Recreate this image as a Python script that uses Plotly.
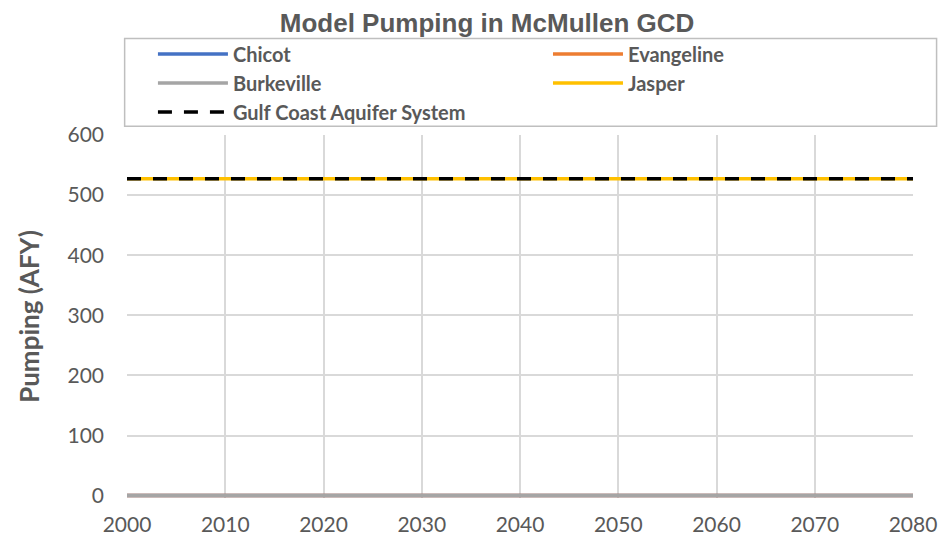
import plotly.graph_objects as go

years = [2000, 2010, 2020, 2030, 2040, 2050, 2060, 2070, 2080]
chicot = [0, 0, 0, 0, 0, 0, 0, 0, 0]
evangeline = [0, 0, 0, 0, 0, 0, 0, 0, 0]
burkeville = [0, 0, 0, 0, 0, 0, 0, 0, 0]
jasper = [527, 527, 527, 527, 527, 527, 527, 527, 527]
gulf_coast = [527, 527, 527, 527, 527, 527, 527, 527, 527]

FONT = "Lato"
GRAY = "#595959"
fig = go.Figure()
series = [
    ("Chicot", chicot, "#4472C4", "solid", "legend"),
    ("Evangeline", evangeline, "#ED7D31", "solid", "legend2"),
    ("Burkeville", burkeville, "#A5A5A5", "solid", "legend"),
    ("Jasper", jasper, "#FFC000", "solid", "legend2"),
    ("Gulf Coast Aquifer System", gulf_coast, "#000000", "14px,12px", "legend"),
]
for name, vals, color, dash, leg in series:
    fig.add_trace(go.Scatter(x=years, y=vals, name=f"<b>{name}</b>", mode="lines",
                             legend=leg,
                             line=dict(color=color, width=3.5, dash=dash)))

# legend frame (paper coords relative to plot area)
fig.add_shape(type="rect", xref="paper", yref="paper",
              x0=-0.003, x1=1.030, y0=1.024, y1=1.266,
              line=dict(color="#BFBFBF", width=1.5), fillcolor="rgba(0,0,0,0)", layer="above")

legend_common = dict(orientation="v", yanchor="top", y=1.277, itemwidth=70,
                     borderwidth=0, tracegroupgap=0, traceorder="normal",
                     bgcolor="rgba(0,0,0,0)",
                     font=dict(family=FONT, size=20, color=GRAY))

# page body has an 8px margin, so the figure is 8px smaller than the window
fig.update_layout(
    width=943, height=532,
    margin=dict(l=119, r=38, t=127, b=41.6, autoexpand=False),
    plot_bgcolor="white", paper_bgcolor="white",
    title=dict(text="<b>Model Pumping in McMullen GCD</b>", x=0.508, xanchor="center",
               y=0.9887, yanchor="top",
               font=dict(family="Liberation Sans", size=26, color=GRAY)),
    legend=dict(x=0.033, xanchor="left", **legend_common),
    legend2=dict(x=0.5356, xanchor="left", **legend_common),
    font=dict(family=FONT, color=GRAY),
    showlegend=True,
)
fig.update_xaxes(range=[2000, 2080], tick0=2000, dtick=10, showgrid=True,
                 gridcolor="#D9D9D9", gridwidth=1.5, zeroline=False,
                 showline=False, ticks="", ticklabelstandoff=12,
                 tickfont=dict(family=FONT, size=21, color=GRAY))
fig.update_yaxes(range=[-4, 600], tickvals=[0, 100, 200, 300, 400, 500, 600],
                 showgrid=True, gridcolor="#D9D9D9",
                 gridwidth=1.5, zeroline=False, showline=False, ticks="",
                 ticklabelstandoff=22,
                 title=dict(text="<b>Pumping (AFY)</b>", standoff=20,
                            font=dict(family=FONT, size=26, color=GRAY)),
                 tickfont=dict(family=FONT, size=21, color=GRAY))

fig.write_html("out.html")
